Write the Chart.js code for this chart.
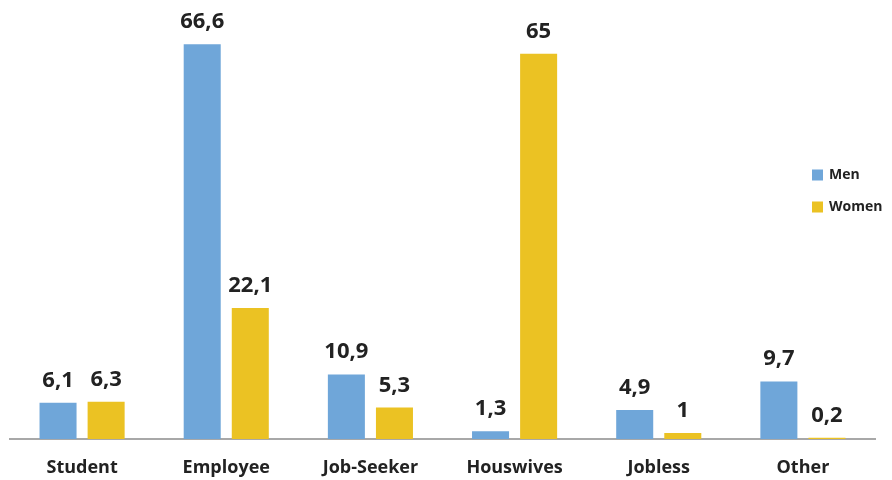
<!DOCTYPE html>
<html>
<head>
<meta charset="utf-8">
<script src="https://cdn.jsdelivr.net/npm/chart.js@4"></script>
<style>
  html, body { margin: 0; padding: 0; background: #fff; }
  #wrap { width: 892px; height: 480px; position: relative; }
</style>
</head>
<body>
<div id="wrap"><canvas id="grafico"></canvas></div>
<script>
const categorias = ["Student", "Employee", "Job-Seeker", "Houswives", "Jobless", "Other"];
const homens = [6.1, 66.6, 10.9, 1.3, 4.9, 9.7];
const mulheres = [6.3, 22.1, 5.3, 65, 1, 0.2];
const nomesSeries = ["Men", "Women"];

const AZUL = "#6fa6d9";
const AMARELO = "#ebc223";
const FONTE = "'Open Sans', Lato, sans-serif";

// numero com virgula decimal
function fmt(v) {
    return String(v).replace(".", ",");
}

// rotulos em cima das barras + legenda desenhada a mao
const rotulos = {
    id: "rotulos",
    afterDatasetsDraw(chart) {
        const c = chart.ctx;
        c.save();
        c.font = "bold 22px " + FONTE;
        c.fillStyle = "#222";
        c.textAlign = "center";
        c.textBaseline = "alphabetic";
        chart.data.datasets.forEach((ds, i) => {
            chart.getDatasetMeta(i).data.forEach((bar, j) => {
                c.fillText(fmt(ds.data[j]), bar.x, bar.y - 16);
            });
        });

        // legenda
        c.font = "bold 14px " + FONTE;
        c.textAlign = "left";
        c.textBaseline = "middle";
        chart.data.datasets.forEach((ds, i) => {
            const y = 175 + i * 32;
            c.fillStyle = ds.backgroundColor;
            c.fillRect(812, y - 5.5, 11, 11);
            c.fillStyle = "#222";
            c.fillText(ds.label, 829, y);
        });
        c.restore();
    }
};

const ctx = document.getElementById("grafico");
new Chart(ctx, {
    type: "bar",
    data: {
        labels: categorias,
        datasets: [
            { label: nomesSeries[0], data: homens, backgroundColor: AZUL },
            { label: nomesSeries[1], data: mulheres, backgroundColor: AMARELO }
        ]
    },
    options: {
        responsive: true,
        maintainAspectRatio: false,
        animation: false,
        categoryPercentage: 0.667,
        barPercentage: 0.77,
        layout: { padding: { top: 24, left: 10, right: 17, bottom: 3 } },
        plugins: {
            legend: { display: false },
            tooltip: { enabled: false }
        },
        scales: {
            x: {
                grid: { display: false },
                border: { display: true, color: "#a8a8a8", width: 2 },
                afterFit(scale) { scale.height = 38; },
                ticks: {
                    color: "#222",
                    padding: 10,
                    font: { family: FONTE, size: 18, weight: "bold" }
                }
            },
            y: {
                display: false,
                min: 0,
                max: 70
            }
        }
    },
    plugins: [rotulos]
});
</script>
</body>
</html>
